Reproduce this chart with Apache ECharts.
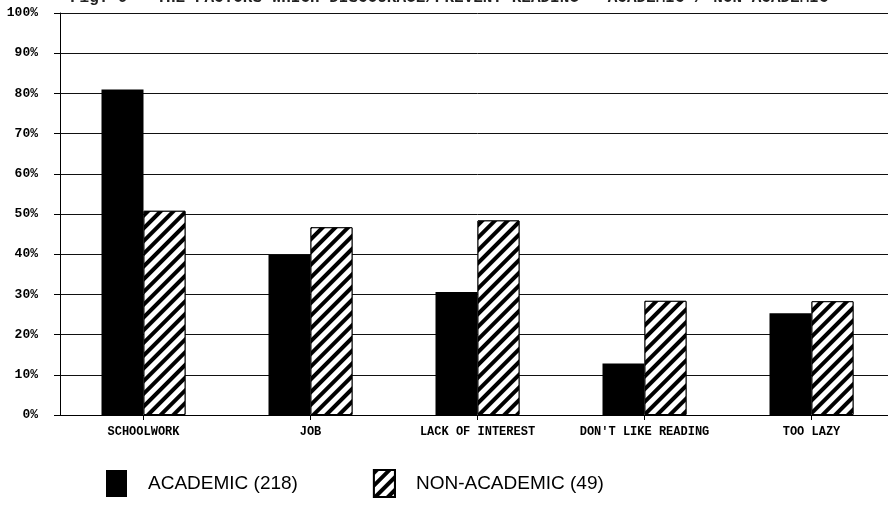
<!DOCTYPE html>
<html>
<head>
<meta charset="utf-8">
<script src="https://cdn.jsdelivr.net/npm/echarts@6/dist/echarts.min.js"></script>
<style>
html,body{margin:0;padding:0;background:#fff;overflow:hidden;}
#chart{width:895px;height:506px;}
</style>
</head>
<body>
<div id="chart"></div>
<script>
const titleText = "Fig. 9 - THE FACTORS WHICH DISCOURAGE/PREVENT READING - ACADEMIC / NON-ACADEMIC";
const categories = ["SCHOOLWORK", "JOB", "LACK OF INTEREST", "DON'T LIKE READING", "TOO LAZY"];
const academic = [81, 39.8, 30.6, 12.8, 25.3];
const nonAcademic = [50.8, 46.7, 48.4, 28.4, 28.3];
const seriesNames = ["ACADEMIC (218)", "NON-ACADEMIC (49)"];
const yTicks = [0, 10, 20, 30, 40, 50, 60, 70, 80, 90, 100];

const chart = echarts.init(document.getElementById('chart'), null, {renderer: 'canvas'});
const hatch = {
  symbol: 'rect',
  symbolSize: 1,
  dashArrayX: [[1, 0]],
  dashArrayY: [4, 5],
  rotation: -Math.PI / 4,
  color: '#000',
  backgroundColor: '#fff'
};
chart.setOption({
  animation: false,
  backgroundColor: '#fff',
  title: {
    text: titleText,
    left: 70,
    top: -10,
    padding: 0,
    textStyle: {fontFamily: 'Liberation Mono', fontSize: 16, fontWeight: 'bold', color: '#222'}
  },
  legend: {
    left: 106,
    top: 469,
    padding: 0,
    itemWidth: 21,
    itemHeight: 27,
    itemGap: 75,
    icon: 'rect',
    textStyle: {fontFamily: 'Liberation Sans', fontSize: 19, color: '#000', padding: [0, 0, 0, 16]},
    data: seriesNames
  },
  grid: {left: 60, right: 0, top: 13, bottom: 91, containLabel: false},
  xAxis: {
    type: 'category',
    data: categories,
    axisLine: {lineStyle: {color: '#000', width: 1}},
    axisTick: {show: true, alignWithLabel: true, interval: 0, length: 5, lineStyle: {color: '#000'}},
    axisLabel: {interval: 0, hideOverlap: false, fontFamily: 'Liberation Mono', fontSize: 12, fontWeight: 'bold', color: '#000', margin: 11}
  },
  yAxis: {
    type: 'value',
    min: yTicks[0],
    max: yTicks[yTicks.length - 1],
    interval: 10,
    axisLine: {show: true, lineStyle: {color: '#000', width: 1}},
    axisTick: {show: true, length: 6, lineStyle: {color: '#000'}},
    axisLabel: {formatter: '{value}%', fontFamily: 'Liberation Mono', fontSize: 13, fontWeight: 'bold', color: '#000', margin: 22},
    splitLine: {show: true, lineStyle: {color: '#111', width: 1}}
  },
  series: [
    {
      name: seriesNames[0],
      type: 'bar',
      data: academic,
      barWidth: 42,
      barGap: '0%',
      itemStyle: {color: '#000'}
    },
    {
      name: seriesNames[1],
      type: 'bar',
      data: nonAcademic,
      barWidth: 42,
      itemStyle: {color: '#fff', borderColor: '#000', borderWidth: 1, decal: hatch}
    }
  ]
});
</script>
</body>
</html>
